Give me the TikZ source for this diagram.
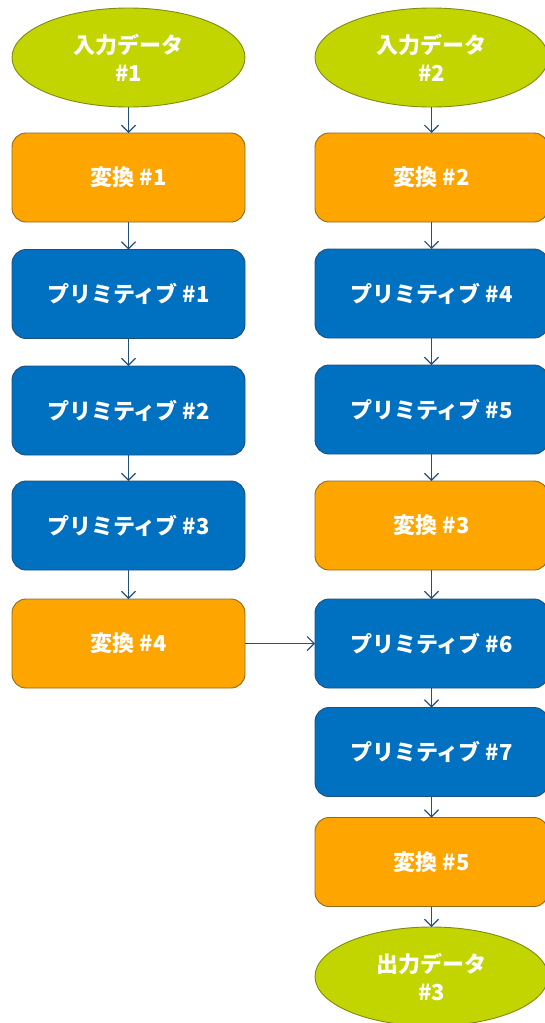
\documentclass[tikz,border=0pt]{standalone}
\usepackage{fontspec}
\newfontfamily\jp{Noto Sans CJK JP}
\usetikzlibrary{shapes.geometric,arrows.meta}
\definecolor{dgreen}{HTML}{C3D500}
\definecolor{dgreenb}{HTML}{7E8A10}
\definecolor{dorange}{HTML}{FFA500}
\definecolor{dorangeb}{HTML}{8E6A1A}
\definecolor{dblue}{HTML}{0070C0}
\definecolor{dblueb}{HTML}{1F4E79}
\definecolor{arr}{HTML}{22507F}
\tikzset{
  base/.style={minimum width=233pt,minimum height=89pt,inner sep=0pt,outer sep=0pt,line width=0.9pt,text=white,font=\jp\bfseries\fontsize{22pt}{28pt}\selectfont,align=center},
  databox/.style={base,ellipse,minimum height=99pt,fill=dgreen,draw=dgreenb},
  xformbox/.style={base,rectangle,rounded corners=14pt,fill=dorange,draw=dorangeb},
  primbox/.style={base,rectangle,rounded corners=14pt,fill=dblue,draw=dblueb},
  flow/.style={draw=arr,line width=1.1pt,-{Straight Barb[length=7pt,width=14pt,line width=1.1pt]}}
}
\begin{document}
\begin{tikzpicture}[x=1pt,y=-1pt]
\useasboundingbox (0,0) rectangle (544,1023);
% left column
\node[databox] (in1) at (128.5,57.5) {入力データ\\\#1};
\node[xformbox] (t1) at (128.5,177.5) {変換 \#1};
\node[primbox] (p1) at (128.5,294) {プリミティブ \#1};
\node[primbox] (p2) at (128.5,410.5) {プリミティブ \#2};
\node[primbox] (p3) at (128.5,525.5) {プリミティブ \#3};
\node[xformbox] (t4) at (128.5,643.5) {変換 \#4};
% right column
\node[databox] (in2) at (431.5,57.5) {入力データ\\\#2};
\node[xformbox] (t2) at (431.5,177.5) {変換 \#2};
\node[primbox] (p4) at (431.5,293.5) {プリミティブ \#4};
\node[primbox] (p5) at (431.5,409.5) {プリミティブ \#5};
\node[xformbox] (t3) at (431.5,525.5) {変換 \#3};
\node[primbox] (p6) at (431.5,643.5) {プリミティブ \#6};
\node[primbox] (p7) at (431.5,752) {プリミティブ \#7};
\node[xformbox] (t5) at (431.5,862) {変換 \#5};
\node[databox] (out3) at (431.5,976.5) {出力データ\\\#3};
% connectors
\draw[flow] (in1) -- (t1);
\draw[flow] (t1) -- (p1);
\draw[flow] (p1) -- (p2);
\draw[flow] (p2) -- (p3);
\draw[flow] (p3) -- (t4);
\draw[flow] (in2) -- (t2);
\draw[flow] (t2) -- (p4);
\draw[flow] (p4) -- (p5);
\draw[flow] (p5) -- (t3);
\draw[flow] (t3) -- (p6);
\draw[flow] (p6) -- (p7);
\draw[flow] (p7) -- (t5);
\draw[flow] (t5) -- (out3);
\draw[flow] (t4) -- (p6);
\end{tikzpicture}
\end{document}
